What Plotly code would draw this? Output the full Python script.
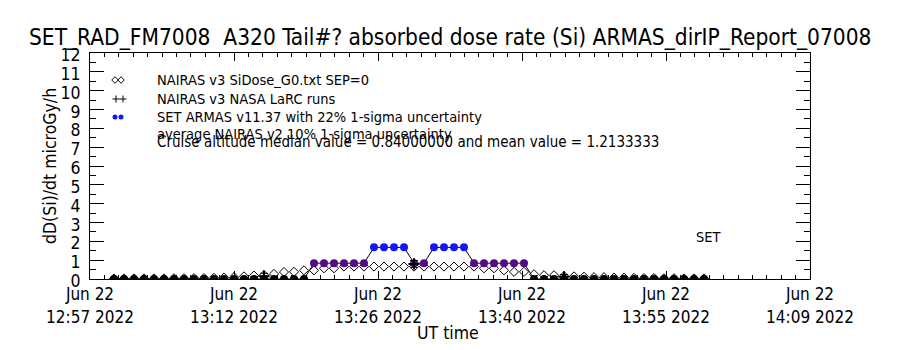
import pandas as pd
import plotly.graph_objects as go

# ---- data: one sample per minute, 13:00 .. 13:59 UT, 22 June 2022 ----
times = pd.date_range("2022-06-22 13:00", "2022-06-22 13:59", freq="1min")

# NAIRAS v3 SiDose_G0 absorbed dose rate (microGy/h)
nairas_dose = [
    0.03, 0.03, 0.03, 0.03, 0.03, 0.03, 0.04, 0.04, 0.05, 0.05,
    0.06, 0.08, 0.10, 0.14, 0.18, 0.21, 0.27, 0.37, 0.38, 0.46,
    0.46, 0.57, 0.57, 0.66, 0.66, 0.66, 0.66, 0.66, 0.66, 0.66,
    0.66, 0.66, 0.66, 0.66, 0.66, 0.66, 0.66, 0.57, 0.57, 0.46,
    0.38, 0.38, 0.25, 0.20, 0.20, 0.16, 0.14, 0.12, 0.10, 0.10,
    0.08, 0.07, 0.06, 0.05, 0.05, 0.04, 0.04, 0.03, 0.03, 0.03,
]

# SET ARMAS v11.37 absorbed dose rate (microGy/h)
armas_dose = (
    [0.0] * 20
    + [0.84] * 6
    + [1.68] * 4
    + [0.84] * 2
    + [1.68] * 4
    + [0.84] * 6
    + [0.0] * 18
)

# NAIRAS v3 NASA LaRC runs
larc_times = pd.to_datetime(["2022-06-22 13:15", "2022-06-22 13:30", "2022-06-22 13:45"])
larc_dose = [0.15, 0.80, 0.12]
larc_err = [0.15, 0.18, 0.12]

# axis ticks
x_start = pd.Timestamp("2022-06-22 12:57:36")
x_end = pd.Timestamp("2022-06-22 14:09:36")
tick_labels = [
    "Jun 22<br>12:57 2022",
    "Jun 22<br>13:12 2022",
    "Jun 22<br>13:26 2022",
    "Jun 22<br>13:40 2022",
    "Jun 22<br>13:55 2022",
    "Jun 22<br>14:09 2022",
]
y_ticks = list(range(0, 13))

legend_labels = [
    "NAIRAS v3 SiDose_G0.txt SEP=0",
    "NAIRAS v3 NASA LaRC runs",
    "SET ARMAS v11.37 with 22% 1-sigma uncertainty",
    "average NAIRAS v2 10% 1-sigma uncertainty",
]
cruise_median = 0.84
cruise_mean = 1.2133333

# ---- styling ----
FONT = "DejaVu Sans Condensed, DejaVu Sans, sans-serif"
PURPLE = "#520c88"
BLUE = "#1414ff"

W, H = 900, 350
L, R, T, B = 90, 90, 53, 71
PW, PH = W - L - R, H - T - B


def px2x(px):
    return (px - L) / PW


def px2y(py):
    return (H - B - py) / PH


major_ticks = pd.date_range(x_start, x_end, periods=6)
minor_ticks = pd.date_range(x_start, x_end, periods=51)

armas_colors = []
for v in armas_dose:
    if v <= 0:
        armas_colors.append("black")
    elif v < 1.2:
        armas_colors.append(PURPLE)
    else:
        armas_colors.append(BLUE)

fig = go.Figure()

fig.add_trace(go.Scatter(
    x=times, y=nairas_dose, mode="markers",
    marker=dict(symbol="diamond-open", size=7, color="black", line=dict(width=1)),
    showlegend=False,
))

fig.add_trace(go.Scatter(
    x=times, y=armas_dose, mode="lines+markers",
    line=dict(color="black", width=1),
    marker=dict(symbol="circle", size=8, color=armas_colors, line=dict(width=0)),
    showlegend=False,
))

fig.add_trace(go.Scatter(
    x=larc_times, y=larc_dose, mode="markers",
    marker=dict(symbol="cross-thin", size=8, color="black", line=dict(width=2, color="black")),
    error_y=dict(type="data", array=larc_err, color="black", thickness=1, width=4),
    showlegend=False,
))

# legend samples drawn on an overlay axis spanning the plot area
fig.add_trace(go.Scatter(
    x=[px2x(115), px2x(121)], y=[px2y(80), px2y(80)], mode="markers",
    marker=dict(symbol="diamond-open", size=5, color="black", line=dict(width=1)),
    xaxis="x2", yaxis="y2", showlegend=False, hoverinfo="skip",
))
fig.add_trace(go.Scatter(
    x=[px2x(116), px2x(123)], y=[px2y(99), px2y(99)], mode="markers",
    marker=dict(symbol="cross-thin", size=5, color="black", line=dict(width=1, color="black")),
    xaxis="x2", yaxis="y2", showlegend=False, hoverinfo="skip",
))
fig.add_trace(go.Scatter(
    x=[px2x(115), px2x(121)], y=[px2y(117), px2y(117)], mode="markers",
    marker=dict(symbol="circle", size=5, color=BLUE),
    xaxis="x2", yaxis="y2", showlegend=False, hoverinfo="skip",
))

annotations = []
for label, py in zip(legend_labels, [80, 99, 117, 134]):
    annotations.append(dict(
        x=px2x(155), y=px2y(py), xref="paper", yref="paper",
        text=label, showarrow=False, xanchor="left", yanchor="middle",
        font=dict(size=14.5, family=FONT, color="black"),
    ))
annotations.append(dict(
    x=px2x(155), y=px2y(142), xref="paper", yref="paper",
    text=f"Cruise altitude median value = {cruise_median:.8f} and mean value = {cruise_mean:.7f}",
    showarrow=False, xanchor="left", yanchor="middle",
    font=dict(size=15, family=FONT, color="black"),
))
annotations.append(dict(
    x=px2x(709), y=px2y(237), xref="paper", yref="paper",
    text="SET", showarrow=False, xanchor="center", yanchor="middle",
    font=dict(size=14.5, family=FONT, color="black"),
))
annotations.append(dict(
    x=px2x(50), y=px2y(166), xref="paper", yref="paper",
    text="dD(Si)/dt microGy/h", textangle=-90, showarrow=False,
    xanchor="center", yanchor="middle",
    font=dict(size=17.5, family=FONT, color="black"),
))
annotations.append(dict(
    x=px2x(448), y=px2y(333), xref="paper", yref="paper",
    text="UT time", showarrow=False, xanchor="center", yanchor="middle",
    font=dict(size=17.5, family=FONT, color="black"),
))
annotations.append(dict(
    x=px2x(450), y=px2y(37), xref="paper", yref="paper",
    text="SET_RAD_FM7008\u00a0\u00a0A320 Tail#? absorbed dose rate (Si) ARMAS_dirIP_Report_07008",
    showarrow=False, xanchor="center", yanchor="middle",
    font=dict(size=22.5, family=FONT, color="black"),
))

fig.update_layout(
    width=W, height=H,
    margin=dict(l=L, r=R, t=T, b=B),
    paper_bgcolor="white", plot_bgcolor="white",
    font=dict(family=FONT, color="black", size=17),
    annotations=annotations,
    xaxis=dict(
        type="date", range=[x_start, x_end],
        tickmode="array", tickvals=list(major_ticks), ticktext=tick_labels,
        ticks="inside", ticklen=8, tickwidth=1, tickcolor="black",
        minor=dict(tickmode="array", tickvals=list(minor_ticks), ticks="inside",
                   ticklen=4, tickwidth=1, tickcolor="black"),
        showline=True, linecolor="black", linewidth=1, mirror="ticks",
        showgrid=False, zeroline=False,
        tickfont=dict(size=17, family=FONT),
        ticklabelstandoff=0,
    ),
    yaxis=dict(
        range=[0, 12], tickmode="array", tickvals=y_ticks,
        ticks="inside", ticklen=14, tickwidth=1, tickcolor="black",
        minor=dict(dtick=0.5, ticks="inside", ticklen=6, tickwidth=1, tickcolor="black"),
        showline=True, linecolor="black", linewidth=1, mirror="ticks",
        showgrid=False, zeroline=False,
        tickfont=dict(size=17.5, family=FONT),
        ticklabelstandoff=5,
        ticklabelshift=2,
    ),
    xaxis2=dict(overlaying="x", range=[0, 1], visible=False),
    yaxis2=dict(overlaying="y", range=[0, 1], visible=False),
)

fig.write_html("out.html")
